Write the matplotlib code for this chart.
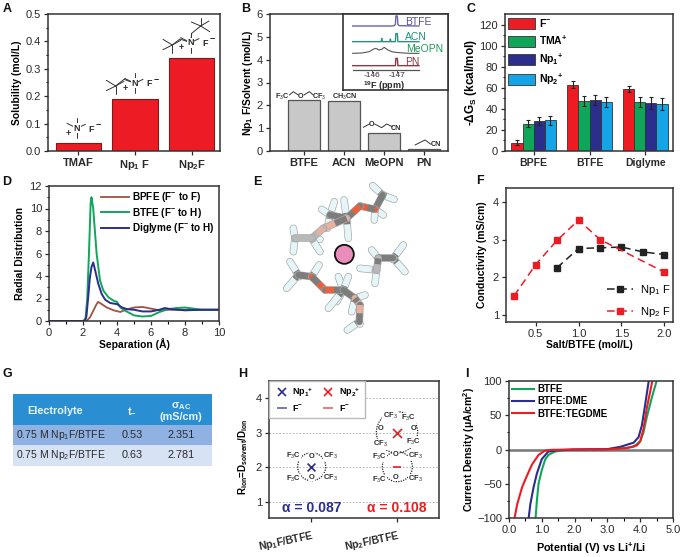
import numpy as np
import matplotlib
matplotlib.use('Agg')
import matplotlib.pyplot as plt
from matplotlib.lines import Line2D
from matplotlib.patches import Patch, Circle, Rectangle
from matplotlib.transforms import ScaledTranslation

plt.rcParams['font.family'] = ['Liberation Sans', 'DejaVu Sans']
plt.rcParams['mathtext.fontset'] = 'custom'
plt.rcParams['mathtext.rm'] = 'Liberation Sans'
plt.rcParams['mathtext.bf'] = 'Liberation Sans:bold'
plt.rcParams['mathtext.it'] = 'Liberation Sans:italic'
plt.rcParams['font.size'] = 7.5
plt.rcParams['axes.edgecolor'] = '#333333'
plt.rcParams['axes.linewidth'] = 1.1

W, H = 686, 557
INK = '#2a2a2a'
RED = '#ed1c24'
GREEN = '#10a65a'
NAVY = '#2b2e8c'
CYAN = '#14a5e6'

# A
salts = ['TMAF', r'Np$_{\mathbf{1}}$ F', r'Np$_{\mathbf{2}}$F']
solubility = [0.03, 0.19, 0.34]

# B
solvents_b = ['BTFE', 'ACN', 'MeOPN', 'PN']
np1f_solvent = [2.23, 2.2, 0.79, 0.08]

# B inset, 19F spectra
btfe_ppm = [-145.23, -146.8, -146.9, -146.95, -146.97, -147.03, -147.05, -147.1, -147.9]
btfe_amp = [0, 0, 1, 5, 30, 30, 5, 1, 0]
acn_ppm = [-145.23, -146.38, -146.4, -146.42, -146.73, -146.75, -146.77, -146.95, -146.97, -147.03, -147.05, -147.9]
acn_amp = [0, 0, 10, 0, 0, 8, 0, 0, 24, 24, 0, 0]
meopn_ppm = [-145.23, -145.6, -145.9, -146.05, -146.16, -146.3, -146.4, -146.5, -146.65, -146.85, -147.1, -147.5, -147.9]
meopn_amp = [0, 1, 5, 12, 15, 10, 12, 18, 10, 4, 2, 0, 0]
pn_ppm = [-145.23, -146.95, -146.97, -147.03, -147.05, -147.9]
pn_amp = [0, 0, 22, 22, 0, 0]

# C
solvents_c = ['BPFE', 'BTFE', 'Diglyme']
ion_names = [r'F$^{\mathbf{-}}$', r'TMA$^{\mathbf{+}}$', r'Np$_{\mathbf{1}}$$^{\mathbf{+}}$', r'Np$_{\mathbf{2}}$$^{\mathbf{+}}$']
ion_colors = [RED, GREEN, NAVY, CYAN]
dg_f = [8, 63, 59]
dg_tma = [26, 47.5, 46.5]
dg_np1 = [28.5, 48.5, 45.5]
dg_np2 = [29, 46.5, 44.5]
err_f = [2, 3.5, 3]
err_tma = [3.5, 4.5, 4.5]
err_np1 = [3.5, 4.5, 5.5]
err_np2 = [4, 5, 6]

# D
bpfe_r = [0, 2.2, 2.4, 2.6, 2.8, 2.9, 3.1, 3.4, 3.8, 4.2, 4.5, 5, 5.5, 6, 6.5, 7, 8, 10]
bpfe_g = [0, 0, 0.3, 0.9, 1.5, 1.7, 1.5, 1.2, 0.95, 0.8, 1.0, 1.2, 1.25, 1.1, 0.95, 1.0, 1.0, 1.0]
btfe_r = [0, 2.0, 2.15, 2.25, 2.35, 2.45, 2.5, 2.6, 2.7, 2.8, 3.0, 3.2, 3.5, 3.8, 4.0, 4.2, 4.5, 5, 5.5, 6, 6.5, 7, 7.5, 8, 8.5, 9, 10]
btfe_g = [0, 0, 0.2, 2, 6, 10.5, 11, 10, 8, 6, 3.6, 2.7, 2.1, 1.8, 1.7, 1.2, 0.9, 0.5, 0.4, 0.45, 0.8, 1.05, 1.15, 1.2, 1.1, 1.0, 1.0]
dig_r = [0, 2.1, 2.2, 2.3, 2.4, 2.5, 2.6, 2.7, 2.9, 3.1, 3.3, 3.6, 4, 4.3, 4.6, 5, 5.5, 6, 6.5, 6.8, 7.2, 8, 9, 10]
dig_g = [0, 0, 0.4, 2, 3.8, 4.8, 5.2, 4.6, 3.3, 2.4, 1.9, 1.6, 1.5, 1.2, 1.05, 1.0, 0.85, 0.85, 1.0, 1.15, 1.05, 0.95, 1.0, 1.0]

# F
np1_conc = [0.75, 1.0, 1.25, 1.5, 1.75, 2.0]
np1_cond = [2.25, 2.76, 2.78, 2.8, 2.67, 2.6]
np2_conc = [0.25, 0.5, 0.75, 1.0, 1.25, 2.0]
np2_cond = [1.5, 2.33, 2.98, 3.52, 3.0, 2.13]

# G
table_rows = [(r'0.75 M Np$_1$F/BTFE', '0.53', '2.351'),
              (r'0.75 M Np$_2$F/BTFE', '0.63', '2.781')]

# H
h_labels = [r'Np$_{\mathbf{1}}$F/BTFE', r'Np$_{\mathbf{2}}$F/BTFE']
cation_pos = [1, 2]
cation_r = [2, 3]
anion_pos = [1, 2]
anion_r = [2, 2]
alpha_vals = ['0.087', '0.108']

# I
btfe_v = [0.81, 0.85, 0.9, 1.0, 1.1, 1.2, 1.4, 1.7, 2, 3, 3.5, 3.8, 4.0, 4.1, 4.2, 4.35, 4.5]
btfe_i = [-100, -75, -50, -30, -15, -8, -3, -1, -0.3, 0.5, 2, 4, 12, 25, 47, 75, 100]
dme_v = [0.6, 0.65, 0.75, 0.85, 1.0, 1.2, 1.5, 2, 3.0, 3.4, 3.8, 3.95, 4.05, 4.15, 4.26]
dme_i = [-100, -80, -55, -35, -14, -3, -1, 0, 0.5, 4, 10, 18, 35, 65, 100]
teg_v = [0.17, 0.25, 0.4, 0.55, 0.7, 0.9, 1.1, 1.3, 2, 3.0, 3.6, 3.9, 4.0, 4.1, 4.2, 4.37]
teg_i = [-100, -80, -55, -38, -22, -8, -1.5, -0.5, 0, 0, 2, 6, 12, 30, 60, 100]

fig = plt.figure(figsize=(W / 100, H / 100), dpi=100, facecolor='white')


def add_ax(left, top, right, bottom):
    ax = fig.add_axes([left / W, 1 - bottom / H, (right - left) / W, (bottom - top) / H])
    ax.tick_params(colors=INK, labelsize=8, length=3, width=0.9, pad=2)
    ax.tick_params(which='minor', length=1.8, width=0.8)
    return ax


def bold_labels(labels, size=7.5):
    for t in labels:
        t.set_fontweight('bold')
        t.set_fontsize(size)


# panel A
ax = add_ax(48, 14, 220, 151)
ax.bar(range(3), solubility, width=0.8, color=RED, edgecolor='#7a1a1a', linewidth=0.8)
ax.set_xlim(-0.535, 2.5)
ax.set_ylim(0, 0.5)
ax.set_xticks(range(3), salts)
ax.set_yticks(np.arange(0, 0.51, 0.1))
ax.set_yticks(np.arange(0.05, 0.5, 0.1), minor=True)
bold_labels(ax.get_xticklabels(), 8)
ax.set_ylabel('Solubility (mol/L)', fontweight='bold', fontsize=7.5, labelpad=3)

# panel B
ax = add_ax(270, 14, 448, 151)
ax.bar(range(4), np1f_solvent, width=0.82, color='#c8c8c8', edgecolor='#555555', linewidth=0.9)
ax.set_xlim(-0.85, 3.6)
ax.set_ylim(0, 6)
ax.set_xticks(range(4), solvents_b)
ax.set_yticks(range(7))
bold_labels(ax.get_xticklabels(), 8)
ax.set_ylabel(r'Np$_{\mathbf{1}}$ F/Solvent (mol/L)', fontweight='bold', fontsize=7.5, labelpad=1)

inset = add_ax(343, 14, 448, 90)
inset.set_xlim(-144.84, -149.07)
inset.set_ylim(0, 228)
inset.set_yticks([])
inset.set_xticks([])
for spine in inset.spines.values():
    spine.set_linewidth(1.2)
inset.plot(btfe_ppm, np.array(btfe_amp) + 192, color='#6a63a8', lw=1.0)
inset.plot(acn_ppm, np.array(acn_amp) + 145, color='#2f8f80', lw=1.0)
inset.plot(meopn_ppm, np.array(meopn_amp) + 110, color='#555555', lw=0.8)
inset.plot(pn_ppm, np.array(pn_amp) + 73, color='#8c3a45', lw=1.0)
inset.plot([-145.23, -147.9], [60, 60], color='#555555', lw=0.9)
inset.plot([-146, -146], [54, 60], color='#555555', lw=0.7)
inset.plot([-147, -147], [54, 60], color='#555555', lw=0.7)
inset.text(-146, 44, '-146', ha='center', va='center', fontsize=6, color=INK)
inset.text(-147, 44, '-147', ha='center', va='center', fontsize=6, color=INK)
inset.text(-146.5, 12, r'$^{\mathbf{19}}$F (ppm)', ha='center', va='center', fontsize=6.5, fontweight='bold', color=INK)
inset.text(-147.35, 205, 'BTFE', fontsize=7.5, va='center', color='#55509a')
inset.text(-147.35, 160, 'ACN', fontsize=7.5, va='center', color='#1f8f7c')
inset.text(-147.38, 122, 'MeOPN', fontsize=7.5, va='center', color='#1f9a5a')
inset.text(-147.35, 85, 'PN', fontsize=7.5, va='center', color='#8c3a45')

# panel C
ax = add_ax(505, 14, 673, 151)
x = np.arange(3)
series = [dg_f, dg_tma, dg_np1, dg_np2]
errors = [err_f, err_tma, err_np1, err_np2]
for i, (vals, errs, c) in enumerate(zip(series, errors, ion_colors)):
    ax.bar(x + (i - 1.5) * 0.2, vals, width=0.2, color=c, edgecolor='#333333', linewidth=0.6,
           yerr=errs, error_kw=dict(ecolor='#222222', elinewidth=0.8, capsize=1.6, capthick=0.8))
ax.set_xlim(-0.515, 2.497)
ax.set_ylim(0, 130)
ax.set_xticks(x, solvents_c)
ax.set_yticks(range(0, 121, 20))
ax.set_yticks(range(10, 130, 20), minor=True)
bold_labels(ax.get_xticklabels(), 7.5)
ax.set_ylabel(r'-$\mathbf{\Delta G_S}$ (kcal/mol)', fontweight='bold', fontsize=8.5, labelpad=0)
handles = [Patch(facecolor=c, edgecolor='#444444', linewidth=0.7) for c in ion_colors]
leg = ax.legend(handles, ion_names, loc='upper left', frameon=False, fontsize=7.5, handlelength=2.6,
                handleheight=1.25, labelspacing=0.45, handletextpad=0.4, borderaxespad=0.1, borderpad=0.2)
for t in leg.get_texts():
    t.set_fontweight('bold')

# panel D
ax = add_ax(49, 186, 219, 321)
ax.plot(bpfe_r, bpfe_g, color='#a0523f', lw=1.3, label=r'BPFE (F$^{\mathbf{-}}$ to F)')
ax.plot(btfe_r, btfe_g, color=GREEN, lw=1.4, label=r'BTFE (F$^{\mathbf{-}}$ to H)')
ax.plot(dig_r, dig_g, color=NAVY, lw=1.4, label=r'Diglyme (F$^{\mathbf{-}}$ to H)')
ax.set_xlim(0, 10)
ax.set_ylim(0, 12)
ax.set_xticks(range(0, 11, 2))
ax.set_xticks(range(1, 10, 2), minor=True)
ax.set_yticks(range(0, 13, 2))
ax.set_yticks(range(1, 12, 2), minor=True)
ax.set_xlabel('Separation (Å)', fontweight='bold', fontsize=7.5, labelpad=0)
ax.set_ylabel('Radial Distribution', fontweight='bold', fontsize=7.5, labelpad=3)
leg = ax.legend(loc='upper right', frameon=False, fontsize=7.2, handlelength=2.8, labelspacing=0.15,
                handletextpad=0.3, borderaxespad=0.1, borderpad=0.3)
for t in leg.get_texts():
    t.set_fontweight('bold')

# panel F
ax = add_ax(506, 188, 673, 322)
ax.plot(np1_conc, np1_cond, color='#222222', ls=(0, (5, 3)), lw=1.1, marker='s', ms=4.5, label=r'Np$_1$ F')
ax.plot(np2_conc, np2_cond, color=RED, ls=(0, (5, 3)), lw=1.1, marker='s', ms=4.5, label=r'Np$_2$ F')
ax.set_xlim(0.155, 2.1)
ax.set_ylim(0.8, 4.375)
ax.set_xticks([0.5, 1.0, 1.5, 2.0])
ax.set_yticks([1, 2, 3, 4])
ax.set_xlabel('Salt/BTFE (mol/L)', fontweight='bold', fontsize=7.5, labelpad=1)
ax.set_ylabel('Conductivity (mS/cm)', fontweight='bold', fontsize=7.5, labelpad=4)
ax.legend(loc='lower right', frameon=False, fontsize=8, handlelength=2.4, labelspacing=0.75,
          borderaxespad=0, borderpad=0.25, handletextpad=0.6)

# panel H
ax = add_ax(269, 381, 439, 518)
ax.set_xlim(0.506, 2.49)
ax.set_ylim(0.524, 4.5)
ax.set_yticks([1, 2, 3, 4])
ax.grid(axis='y', color='#aaaaaa', ls=(0, (2, 2)), lw=0.6)
ax.set_axisbelow(True)
ax.set_xticks(cation_pos, h_labels, rotation=12, ha='right')
bold_labels(ax.get_xticklabels(), 7.5)
ax.tick_params(axis='x', pad=5)
shift = ScaledTranslation(4 / 100, 0, fig.dpi_scale_trans)
for t in ax.get_xticklabels():
    t.set_transform(t.get_transform() + shift)
ax.scatter(cation_pos[0], cation_r[0], marker='x', s=32, color=NAVY, lw=1.2, zorder=3)
ax.scatter(cation_pos[1], cation_r[1], marker='x', s=42, color=RED, lw=1.2, zorder=3)
ax.scatter(anion_pos[1], anion_r[1], marker='_', s=34, color=RED, lw=1.2, zorder=3)
ax.text(1, 0.8, 'α = ' + alpha_vals[0], color=NAVY, fontsize=10, fontweight='bold', ha='center', va='center')
ax.text(2, 0.8, 'α = ' + alpha_vals[1], color=RED, fontsize=10, fontweight='bold', ha='center', va='center')
ax.set_ylabel(r'$\mathbf{R_{ion}}$=$\mathbf{D_{solvent}}$/$\mathbf{D_{ion}}$', fontweight='bold', fontsize=7,
              labelpad=4, y=0.45)
h_handles = [Line2D([], [], marker='x', ls='', color=NAVY, ms=6, mew=1.2),
             Line2D([], [], marker='_', ls='', color='#55559a', ms=7, mew=1.1),
             Line2D([], [], marker='x', ls='', color=RED, ms=6, mew=1.2),
             Line2D([], [], marker='_', ls='', color='#e05a66', ms=7, mew=1.1)]
h_names = [r'Np$_{\mathbf{1}}$$^{\mathbf{+}}$', r'F$^{\mathbf{-}}$', r'Np$_{\mathbf{2}}$$^{\mathbf{+}}$', r'F$^{\mathbf{-}}$']
leg = ax.legend(h_handles, h_names, ncol=2, loc='upper left', fontsize=6.5, fancybox=False, framealpha=1,
                edgecolor='#bbbbbb', borderaxespad=0, columnspacing=0.7, handletextpad=0.3, labelspacing=0.45,
                handlelength=1.8, borderpad=0.5)
for t in leg.get_texts():
    t.set_fontweight('bold')

# panel I
ax = add_ax(509, 381, 673, 518)
ax.axhline(0, color='#777777', lw=1.8, zorder=1)
ax.plot(btfe_v, btfe_i, color=GREEN, lw=1.5, label='BTFE')
ax.plot(dme_v, dme_i, color=NAVY, lw=1.5, label='BTFE:DME')
ax.plot(teg_v, teg_i, color=RED, lw=1.5, label='BTFE:TEGDME')
ax.set_xlim(0, 5)
ax.set_ylim(-100, 100)
ax.set_xticks(np.arange(0, 5.1, 1), ['0.0', '1.0', '2.0', '3.0', '4.0', '5.0'])
ax.set_xticks(np.arange(0.5, 5, 1), minor=True)
ax.set_yticks([-100, -50, 0, 50, 100])
ax.set_yticks([-75, -25, 25, 75], minor=True)
ax.set_xlabel(r'Potential (V) vs Li$^{\mathbf{+}}$/Li', fontweight='bold', fontsize=7.8, labelpad=4)
ax.set_ylabel(r'Current Density ($\mathbf{\mu}$A/cm$^{\mathbf{2}}$)', fontweight='bold', fontsize=7.5, labelpad=0)
leg = ax.legend(loc='upper left', frameon=False, fontsize=7, handlelength=2.3, labelspacing=0.25,
                handletextpad=0.3, borderaxespad=0.1, borderpad=0.2)
for t in leg.get_texts():
    t.set_fontweight('bold')

# overlay in pixel coordinates: panel letters, sketches, table
ov = fig.add_axes([0, 0, 1, 1], zorder=10)
ov.set_xlim(0, W)
ov.set_ylim(H, 0)
ov.axis('off')
ov.patch.set_alpha(0)

for letter, lx, ly in [('A', 7, 9), ('B', 246, 9), ('C', 471, 9), ('D', 7, 182), ('E', 257, 182),
                       ('F', 480, 181), ('G', 7, 374), ('H', 243, 374), ('I', 467, 374)]:
    ov.text(lx, ly, letter, fontsize=9, fontweight='bold', ha='center', va='center', color='#111111')


def segs(points, ox=0, oy=0, lw=0.7, color='#333333'):
    pts = np.array(points, dtype=float) / 3
    ov.plot(pts[:, 0] + ox, pts[:, 1] + oy, color=color, lw=lw, solid_capstyle='round')


def ammonium(nx, ny, plus_dx=-27, f_dx=42):
    # zoomed-crop units around the N atom
    for dx, dy in [(0, -30), (-30, -15), (25, -12), (0, 30)]:
        segs([(nx, ny), (nx + dx, ny + dy)])
    ov.text(nx / 3, ny / 3, 'N', fontsize=6.5, ha='center', va='center', color=INK, fontweight='bold',
            bbox=dict(fc='white', ec='none', pad=0.4))
    ov.text((nx + plus_dx) / 3, (ny + 15) / 3, '+', fontsize=6.5, ha='center', va='center', fontweight='bold', color=INK)
    ov.text((nx + f_dx) / 3, (ny + 2) / 3, 'F', fontsize=6.5, ha='center', va='center', color=INK, fontweight='bold')
    ov.text((nx + f_dx + 22) / 3, (ny - 15) / 3, '−', fontsize=6.5, ha='center', va='center', fontweight='bold', color=INK)


def neopentyl(cx, cy, nx, ny, mx, my):
    segs([(nx, ny), (mx, my), (cx, cy)])
    for dx, dy in [(-28, -17), (-28, 14), (25, -14), (0, 24)]:
        segs([(cx, cy), (cx + dx, cy + dy)])


ammonium(231, 385)
ammonium(404, 250)
neopentyl(347, 258, 404, 250, 372, 238)
ammonium(572, 128)
neopentyl(517, 135, 572, 128, 540, 117)
segs([(572, 128), (575, 100), (602, 78)])
for dx, dy in [(25, -15), (27, 17), (0, -25), (-28, -12)]:
    segs([(602, 78), (602 + dx, 78 + dy)])

# B bar formulas
formula = dict(fontsize=5.2, ha='center', va='center', color=INK, fontweight='bold')
ov.text(230 + 158 / 3, 97, r'F$_3$C', **formula)
ov.text(230 + 213 / 3, 97, 'O', **formula)
ov.text(230 + 268 / 3, 97, r'CF$_3$', **formula)
segs([(178, 285), (190, 275), (205, 285)], ox=230)
segs([(222, 285), (238, 275), (250, 285)], ox=230)
ov.text(230 + 345 / 3, 96.5, r'CH$_3$CN', **formula)
ov.text(230 + 426 / 3, 124, 'O', **formula)
ov.text(230 + 499 / 3, 128, 'CN', **formula)
segs([(400, 382), (418, 372)], ox=230)
segs([(434, 372), (455, 383), (470, 372), (487, 380)], ox=230)
ov.text(230 + 617 / 3, 145, 'CN', **formula)
segs([(555, 435), (585, 420), (603, 433)], ox=230)

# E molecule sketch, crop units
carbons = {'a': (428, 75), 'b': (405, 118), 'c': (320, 145), 'd': (270, 135), 'e': (215, 205), 'f': (165, 205),
           'g': (175, 315), 'h': (215, 320), 'i': (310, 360), 'j': (345, 385), 'k': (358, 455),
           'l': (415, 265), 'm': (460, 265), 'n': (410, 300)}
oxygens = {'o1': (360, 108), 'o2': (250, 175), 'o3': (255, 360), 'o4': (360, 405)}
pale_atoms = {'e', 'f', 'n', 'o2', 'o4'}
hydrogens = [('a', 398, 47), ('a', 462, 88), ('b', 430, 135), ('b', 403, 150), ('d', 283, 95), ('d', 245, 118),
             ('d', 262, 175), ('c', 325, 205), ('c', 312, 90), ('e', 240, 208), ('e', 240, 245), ('f', 160, 175),
             ('f', 160, 245), ('g', 150, 275), ('g', 178, 320), ('g', 140, 355), ('h', 237, 285), ('i', 295, 320),
             ('i', 325, 320), ('i', 290, 395), ('i', 265, 415), ('j', 375, 375), ('j', 335, 425), ('k', 322, 480),
             ('k', 360, 462), ('l', 395, 240), ('m', 490, 225), ('m', 495, 305), ('m', 458, 268), ('n', 360, 295),
             ('n', 405, 340)]
backbone = [('a', 'b'), ('b', 'o1'), ('o1', 'c'), ('c', 'd'), ('c', 'o2'), ('o2', 'e'), ('e', 'f'),
            ('g', 'h'), ('h', 'o3'), ('o3', 'i'), ('i', 'j'), ('j', 'o4'), ('o4', 'k'), ('l', 'm'), ('l', 'n')]
atoms = {**carbons, **oxygens}


def epx(p):
    return 240 + p[0] / 3, 170 + p[1] / 3


def tube(p, q, c1, c2, frac=0.5, edge='#a8a8a8'):
    (x0, y0), (x1, y1) = epx(p), epx(q)
    xm, ym = x0 + (x1 - x0) * frac, y0 + (y1 - y0) * frac
    ov.plot([x0, x1], [y0, y1], color=edge, lw=5.4, solid_capstyle='round')
    ov.plot([x0, x1], [y0, y1], color=c2, lw=4.4, solid_capstyle='round')
    ov.plot([x0, xm], [y0, ym], color=c1, lw=4.4, solid_capstyle='butt')


def atom_color(name):
    if name in pale_atoms:
        return '#e8b0a0' if name in oxygens else '#b8b8b8'
    return '#e8603c' if name in oxygens else '#7d7d7d'


for c, hx, hy in hydrogens:
    tube(carbons[c], (hx, hy), atom_color(c), '#e6f6f8', frac=0.3)
for a, b in backbone:
    tube(atoms[a], atoms[b], atom_color(a), atom_color(b))
cx, cy = epx((313, 253))
ov.add_patch(Circle((cx, cy), 9.5, facecolor='#ea8dbb', edgecolor='#111111', linewidth=1.3))

# G table
ov.add_patch(Rectangle((13, 394), 199, 31, facecolor='#2a8fd2', edgecolor='none'))
ov.add_patch(Rectangle((13, 425), 199, 20, facecolor='#8fb2e2', edgecolor='none'))
ov.add_patch(Rectangle((13, 445), 199, 21, facecolor='#d7e3f4', edgecolor='none'))
ov.text(55, 411, 'Electrolyte', color='#e8f4fb', fontsize=7.8, fontweight='bold', ha='center', va='center')
ov.text(132, 411, r't$_{\mathbf{-}}$', color='#e8f4fb', fontsize=7.8, fontweight='bold', ha='center', va='center')
ov.text(181, 406, r'$\mathbf{\sigma_{AC}}$', color='#e8f4fb', fontsize=7.8, fontweight='bold', ha='center', va='center')
ov.text(181, 417, '(mS/cm)', color='#e8f4fb', fontsize=7.8, fontweight='bold', ha='center', va='center')
for (name, tm, sig), ty in zip(table_rows, [435, 455.5]):
    ov.text(16, ty, name, color=INK, fontsize=7.5, ha='left', va='center')
    ov.text(132, ty, tm, color=INK, fontsize=7.8, ha='center', va='center')
    ov.text(181, ty, sig, color=INK, fontsize=7.8, ha='center', va='center')


# H solvation cages
def hpx(x, y):
    return 225 + x / 3, 360 + y / 3


def cage(center, rad, labels):
    hx, hy = hpx(*center)
    ov.add_patch(Circle((hx, hy), rad / 3, fill=False, edgecolor='#222222', linewidth=0.9, linestyle=(0, (1, 1))))
    for txt, lx, ly in labels:
        tx, ty = hpx(lx, ly)
        ov.text(tx, ty, txt, fontsize=5.4, fontweight='bold', ha='center', va='center', color=INK,
                bbox=dict(fc='white', ec='none', pad=0.1))


cage((260, 320), 42, [(r'F$_3$C', 205, 287), ('O', 260, 288), (r'CF$_3$', 317, 288),
                      (r'F$_3$C', 205, 357), ('O', 260, 353), (r'CF$_3$', 317, 355)])
cage((517, 320), 45, [(r'F$_3$C', 462, 291), ('O', 513, 285), (r'CF$_3$', 572, 287),
                      (r'F$_3$C', 462, 360), ('O', 513, 352), (r'CF$_3$', 572, 358)])
cage((516, 217), 62, [(r'CF$_3$', 495, 167), (r'F$_3$C', 550, 175), ('O', 468, 205), ('O', 565, 205),
                      (r'CF$_3$', 465, 253), (r'F$_3$C', 565, 247)])

fig.savefig('out.png', dpi=100)
